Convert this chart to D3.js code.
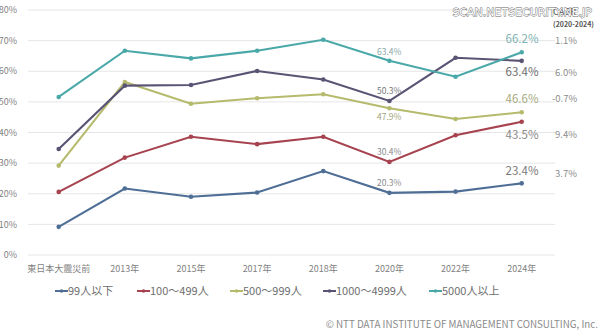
<!DOCTYPE html>
<meta charset="utf-8">
<style>
    body { margin: 0; background: #fff; }
    svg { display: block; font-family: "Noto Sans CJK JP", "Noto Sans", sans-serif; }
    .grid line { stroke: #e6e6e6; stroke-width: 1px; }
    .axis text { fill: #7f7f7f; font-size: 9px; }
    .series path { fill: none; stroke-width: 2.1px; }
</style>
<body>
<svg width="600" height="331"></svg>
<script src="https://d3js.org/d3.v7.min.js"></script>
<script>
    // data
    const categories = ["東日本大震災前", "2013年", "2015年", "2017年", "2018年", "2020年", "2022年", "2024年"];
    const seriesNames = ["99人以下", "100～499人", "500～999人", "1000～4999人", "5000人以上"];
    const colors = ["#4e6e96", "#a6434f", "#b5ba6c", "#5a5474", "#4aa9a8"];
    const s99 = [9.2, 21.7, 19.0, 20.4, 27.4, 20.3, 20.7, 23.4];
    const s100 = [20.6, 31.8, 38.6, 36.2, 38.6, 30.4, 39.1, 43.5];
    const s500 = [29.2, 56.5, 49.4, 51.2, 52.5, 47.9, 44.4, 46.6];
    const s1000 = [34.6, 55.3, 55.5, 60.1, 57.3, 50.3, 64.4, 63.4];
    const s5000 = [51.6, 66.7, 64.2, 66.7, 70.3, 63.4, 58.2, 66.2];
    const seriesValues = [s99, s100, s500, s1000, s5000];
    const cagr = ["3.7%", "9.4%", "-0.7%", "6.0%", "1.1%"];
    const yTicks = [0, 10, 20, 30, 40, 50, 60, 70, 80];

    const svg = d3.select("svg");

    const x = d3.scalePoint()
        .domain(categories)
        .range([58.7, 521.7]);

    const y = d3.scaleLinear()
        .domain([0, 80])
        .range([255, 10]);

    // grid lines
    svg.append("g").attr("class", "grid")
        .selectAll("line")
        .data(yTicks)
        .enter().append("line")
        .attr("x1", 28).attr("x2", 555)
        .attr("y1", d => y(d)).attr("y2", d => y(d));

    // y labels
    svg.append("g").attr("class", "axis")
        .selectAll("text")
        .data(yTicks)
        .enter().append("text")
        .attr("x", 17)
        .attr("y", d => y(d))
        .attr("dy", "0.35em")
        .attr("text-anchor", "end")
        .text(d => d + "%");

    // x labels
    svg.append("g").attr("class", "axis")
        .selectAll("text")
        .data(categories)
        .enter().append("text")
        .attr("x", d => x(d))
        .attr("y", 272)
        .attr("text-anchor", "middle")
        .text(d => d);

    const line = d3.line()
        .x((d, i) => x(categories[i]))
        .y(d => y(d));

    const g = svg.selectAll(".series")
        .data(seriesValues)
        .enter().append("g")
        .attr("class", "series");

    g.append("path")
        .attr("d", d => line(d))
        .style("stroke", (d, i) => colors[i]);

    g.selectAll("circle")
        .data((d, i) => d.map(v => ({ v: v, c: colors[i] })))
        .enter().append("circle")
        .attr("cx", (d, j) => x(categories[j]))
        .attr("cy", d => y(d.v))
        .attr("r", 2.3)
        .style("fill", d => d.c);

    // 2020 labels (small)
    const idx2020 = 5;
    const lab2020Colors = ["#8a8a8a", "#8a8a8a", "#a3a37a", "#7a7a7a", "#8aa6a6"];
    const lab2020Dy = [-7, -7, 12, -7, -6];
    svg.append("g")
        .selectAll("text")
        .data(seriesValues)
        .enter().append("text")
        .attr("x", 377)
        .attr("y", (d, i) => y(d[idx2020]) + lab2020Dy[i])
        .style("font-size", "8.5px")
        .style("fill", (d, i) => lab2020Colors[i])
        .text(d => d[idx2020].toFixed(1) + "%");

    // 2024 labels (bigger)
    const idx2024 = 7;
    const lab2024Colors = ["#7a7a7a", "#8a8a8a", "#a9ac82", "#6e6e6e", "#7fb3b3"];
    const lab2024Dy = [-12.5, 13, -13, 11, -13];
    svg.append("g")
        .selectAll("text")
        .data(seriesValues)
        .enter().append("text")
        .attr("x", 522)
        .attr("y", (d, i) => y(d[idx2024]) + lab2024Dy[i])
        .attr("dy", "0.35em")
        .attr("text-anchor", "middle")
        .style("font-size", "11.5px")
        .style("fill", (d, i) => lab2024Colors[i])
        .text(d => d[idx2024].toFixed(1) + "%");

    // CAGR column
    const cagrY = [174, 135, 99, 73, 41];
    svg.append("g")
        .selectAll("text")
        .data(cagr)
        .enter().append("text")
        .attr("x", 555)
        .attr("y", (d, i) => cagrY[i])
        .attr("dy", "0.35em")
        .attr("dx", d => d.startsWith("-") ? -3 : 0)
        .style("font-size", "9.5px")
        .style("fill", "#8c8c8c")
        .text(d => d);

    svg.append("text")
        .attr("x", 553).attr("y", 15)
        .style("font-size", "9px").style("fill", "#555")
        .text("CAGR");
    svg.append("text")
        .attr("x", 553).attr("y", 27)
        .style("font-size", "7px").style("font-weight", "bold").style("fill", "#555")
        .text("(2020-2024)");

    // watermark
    svg.append("text")
        .attr("x", 592).attr("y", 16)
        .attr("text-anchor", "end")
        .style("font-family", "'DejaVu Sans', sans-serif")
        .style("font-size", "11px")
        .style("fill", "#fff")
        .style("stroke", "#666")
        .style("stroke-width", 0.8)
        .style("paint-order", "stroke")
        .text("SCAN.NETSECURITY.NE.JP");

    // legend
    const legendX = [55, 137, 230, 323, 429];
    const leg = svg.append("g")
        .selectAll("g")
        .data(seriesNames)
        .enter().append("g")
        .attr("transform", (d, i) => "translate(" + legendX[i] + ",291)");
    leg.append("line")
        .attr("x1", 0).attr("x2", 13)
        .style("stroke", (d, i) => colors[i])
        .style("stroke-width", 2);
    leg.append("circle")
        .attr("cx", 6.5).attr("r", 1.8)
        .style("fill", (d, i) => colors[i]);
    leg.append("text")
        .attr("x", 13)
        .attr("dy", "0.35em")
        .style("font-size", "11px")
        .style("fill", "#6e6e6e")
        .text(d => d);

    svg.append("text")
        .attr("x", 598).attr("y", 328)
        .attr("text-anchor", "end")
        .style("font-size", "9.8px")
        .style("fill", "#8a8a8a")
        .text("© NTT DATA INSTITUTE OF MANAGEMENT CONSULTING, Inc.");
</script>
</body>
